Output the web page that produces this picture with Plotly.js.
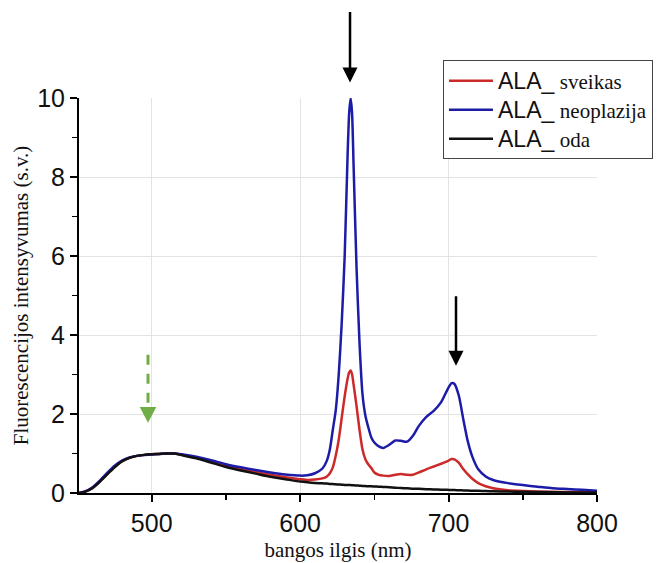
<!DOCTYPE html>
<html>
<head>
<meta charset="utf-8">
<script src="https://cdn.plot.ly/plotly-3.0.1.min.js"></script>
<style>html,body{margin:0;padding:0;background:#fff;}#chart{width:661px;height:563px;}</style>
</head>
<body>
<div id="chart"></div>
<script>
// wavelength (nm)
const wavelength = [451,455,460,465,470,475,480,485,490,495,500,505,510,515,520,530,540,550,560,570,580,590,600,605,610,615,618,620,622,624,626,628,630,632,633,634,635,636,638,640,642,644,646,648,650,653,656,660,664,668,672,676,680,685,690,695,699,702,704,707,710,713,716,720,725,730,740,750,760,770,780,790,800];

// ALA_ sveikas (red)
const sveikas = [0.0,0.035,0.13,0.29,0.48,0.66,0.81,0.89,0.94,0.965,0.98,0.99,1.0,1.0,0.97,0.9,0.8,0.7,0.61,0.53,0.46,0.40,0.35,0.33,0.34,0.37,0.42,0.5,0.65,0.95,1.35,1.9,2.45,2.9,3.05,3.1,3.0,2.75,2.2,1.6,1.1,0.85,0.72,0.63,0.52,0.46,0.44,0.43,0.46,0.48,0.46,0.46,0.52,0.6,0.67,0.74,0.8,0.86,0.85,0.76,0.6,0.47,0.36,0.25,0.17,0.12,0.07,0.05,0.04,0.03,0.025,0.02,0.015];

// ALA_ neoplazija (blue)
const neoplazija = [0.0,0.04,0.14,0.31,0.51,0.69,0.82,0.90,0.94,0.96,0.975,0.99,1.0,1.0,0.98,0.92,0.83,0.73,0.65,0.58,0.52,0.47,0.44,0.45,0.5,0.62,0.82,1.1,1.6,2.1,3.0,4.3,6.0,8.6,9.6,10.0,9.6,8.3,5.7,3.8,2.5,1.95,1.65,1.4,1.28,1.18,1.14,1.22,1.33,1.32,1.30,1.45,1.70,1.93,2.08,2.3,2.6,2.78,2.76,2.45,1.85,1.3,0.92,0.6,0.42,0.33,0.25,0.2,0.16,0.12,0.1,0.08,0.06];

// ALA_ oda (black)
const oda = [0.0,0.03,0.12,0.28,0.47,0.65,0.8,0.89,0.94,0.965,0.98,0.99,1.0,1.0,0.96,0.88,0.77,0.66,0.57,0.49,0.41,0.35,0.29,0.27,0.255,0.245,0.24,0.23,0.225,0.22,0.215,0.21,0.205,0.2,0.2,0.2,0.195,0.195,0.19,0.185,0.18,0.175,0.17,0.17,0.165,0.16,0.155,0.145,0.135,0.125,0.12,0.11,0.105,0.095,0.09,0.085,0.08,0.077,0.075,0.07,0.065,0.062,0.058,0.055,0.05,0.045,0.035,0.03,0.025,0.02,0.015,0.012,0.01];

const seriesNames = ['sveikas', 'neoplazija', 'oda'];
const xTitle = 'bangos ilgis (nm)';
const yTitle = 'Fluorescencijos intensyvumas (s.v.)';
const xTicks = [500, 600, 700, 800];
const yTicks = [0, 2, 4, 6, 8, 10];
const xRange = [451, 800];
const yRange = [0, 10];

// arrows: black arrows (tip position in data units, tail offset in px) and the green dashed one
const blackArrows = [
  {x: 633.6, y: 10.39, ay: -72},
  {x: 705.0, y: 3.22, ay: -71}
];
const greenArrow = {x: 497.5, yTail: 3.50, yShaftEnd: 2.25, yHeadBase: 2.18, yTip: 1.78, halfWidth: 5.6};

const colors = ['#cc2a2a', '#1c1ca8', '#111111'];
const values = [sveikas, neoplazija, oda];

const nameHtml = n => '<span style="font-family:Liberation Sans, Arial, sans-serif;font-size:23px">ALA_</span> <span style="font-family:Liberation Serif, Times New Roman, serif;font-size:21px">' + n + '</span>';

const traces = values.map((v, i) => ({
  x: wavelength,
  y: v,
  type: 'scatter',
  mode: 'lines',
  name: nameHtml(seriesNames[i]),
  line: {color: colors[i], width: 2.5, shape: 'spline', smoothing: 0.6},
  hoverinfo: 'x+y'
}));

// use paper y for arrows (range starts at 0, linear) so arrows above the plot are not hidden
const annotations = blackArrows.map(a => ({
  x: a.x, xref: 'x',
  y: (a.y - yRange[0]) / (yRange[1] - yRange[0]), yref: 'paper',
  ax: 0, ay: a.ay, text: '',
  showarrow: true, arrowhead: 2, arrowsize: 1.2, arrowwidth: 2.5, arrowcolor: '#000'
}));

const g = greenArrow;
const shapes = [
  {type: 'line', xref: 'x', yref: 'y', x0: g.x, x1: g.x, y0: g.yTail, y1: g.yShaftEnd,
   line: {color: '#70ad47', width: 3, dash: '10px,9px'}},
  {type: 'path', xref: 'x', yref: 'y',
   path: 'M' + (g.x - g.halfWidth) + ',' + g.yHeadBase + ' L' + (g.x + g.halfWidth) + ',' + g.yHeadBase + ' L' + g.x + ',' + g.yTip + ' Z',
   fillcolor: '#70ad47', line: {width: 0}}
];

const axisCommon = {
  showline: true, linecolor: '#000', linewidth: 2,
  ticks: 'outside', ticklen: 7, tickwidth: 2, tickcolor: '#000',
  showgrid: true, gridcolor: '#e3e3e3', gridwidth: 1,
  zeroline: false, automargin: false,
  tickfont: {family: 'Liberation Sans, Arial, sans-serif', size: 25, color: '#111'}
};

const layout = {
  width: 661, height: 563,
  margin: {l: 79, r: 64, t: 98, b: 70, autoexpand: false},
  paper_bgcolor: '#fff', plot_bgcolor: '#fff',
  showlegend: true,
  xaxis: Object.assign({}, axisCommon, {
    range: xRange,
    tickmode: 'array', tickvals: xTicks,
    minor: {dtick: 50, tick0: 450, ticklen: 5, tickwidth: 1.5, tickcolor: '#000', ticks: 'outside', showgrid: false},
    title: {text: xTitle, font: {family: 'Liberation Serif, Times New Roman, serif', size: 21, color: '#111'}, standoff: 6}
  }),
  yaxis: Object.assign({}, axisCommon, {
    range: yRange,
    tickmode: 'array', tickvals: yTicks,
    minor: {dtick: 1, tick0: 0, ticklen: 5, tickwidth: 1.5, tickcolor: '#000', ticks: 'outside', showgrid: false},
    title: {text: yTitle, font: {family: 'Liberation Serif, Times New Roman, serif', size: 21, color: '#111'}, standoff: 3}
  }),
  legend: {
    x: 0.7027, y: 1.0953, xanchor: 'left', yanchor: 'top',
    bgcolor: '#fff', bordercolor: '#444', borderwidth: 1,
    font: {family: 'Liberation Sans, Arial, sans-serif', size: 20, color: '#111'},
    tracegroupgap: 0, itemwidth: 44
  },
  annotations: annotations,
  shapes: shapes
};

Plotly.newPlot('chart', traces, layout, {displayModeBar: false, staticPlot: true});
</script>
</body>
</html>
